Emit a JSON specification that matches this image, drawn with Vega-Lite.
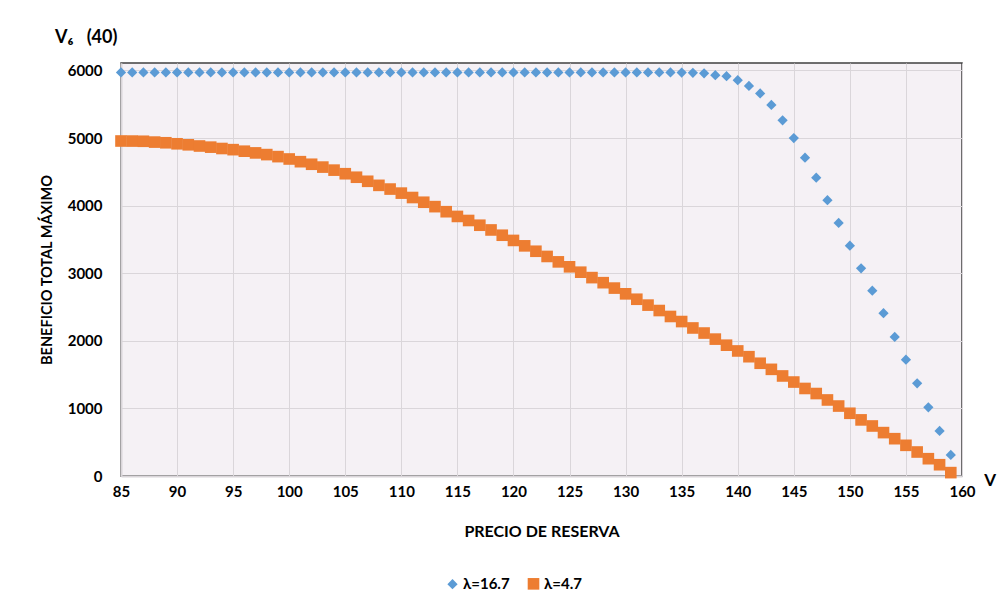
{
  "$schema": "https://vega.github.io/schema/vega-lite/v6.json",
  "autosize": {"type": "none"},
  "width": 841,
  "height": 413,
  "padding": {"left": 121, "top": 63, "right": 43, "bottom": 131},
  "background": "#ffffff",
  "config": {
    "font": "Lato",
    "view": {"fill": "#F5F1F5", "stroke": "#404040", "strokeWidth": 1.5},
    "axis": {
      "labelFont": "Lato", "labelFontWeight": "bold", "labelFontSize": 15, "labelColor": "#000000",
      "titleFont": "Lato", "titleFontWeight": "bold", "titleFontSize": 14, "titleColor": "#000000",
      "gridColor": "#DAD6DA", "gridWidth": 1, "ticks": false,
      "domainColor": "#DAD6DA", "domainWidth": 2
    }
  },
  "title": {
    "text": "V₆\u00a0\u00a0\u00a0(40)",
    "anchor": "start",
    "frame": "group",
    "dx": -66,
    "offset": 16,
    "font": "Lato",
    "fontSize": 18,
    "fontWeight": "bold",
    "color": "#000000"
  },
  "layer": [
    {
      "data": {"values": [
        {"v":85,"s":"λ=16.7","b":5970},{"v":86,"s":"λ=16.7","b":5970},{"v":87,"s":"λ=16.7","b":5970},{"v":88,"s":"λ=16.7","b":5970},{"v":89,"s":"λ=16.7","b":5970},
        {"v":90,"s":"λ=16.7","b":5970},{"v":91,"s":"λ=16.7","b":5970},{"v":92,"s":"λ=16.7","b":5970},{"v":93,"s":"λ=16.7","b":5970},{"v":94,"s":"λ=16.7","b":5970},
        {"v":95,"s":"λ=16.7","b":5970},{"v":96,"s":"λ=16.7","b":5970},{"v":97,"s":"λ=16.7","b":5970},{"v":98,"s":"λ=16.7","b":5970},{"v":99,"s":"λ=16.7","b":5970},
        {"v":100,"s":"λ=16.7","b":5970},{"v":101,"s":"λ=16.7","b":5970},{"v":102,"s":"λ=16.7","b":5970},{"v":103,"s":"λ=16.7","b":5970},{"v":104,"s":"λ=16.7","b":5970},
        {"v":105,"s":"λ=16.7","b":5970},{"v":106,"s":"λ=16.7","b":5970},{"v":107,"s":"λ=16.7","b":5970},{"v":108,"s":"λ=16.7","b":5970},{"v":109,"s":"λ=16.7","b":5970},
        {"v":110,"s":"λ=16.7","b":5970},{"v":111,"s":"λ=16.7","b":5970},{"v":112,"s":"λ=16.7","b":5970},{"v":113,"s":"λ=16.7","b":5970},{"v":114,"s":"λ=16.7","b":5970},
        {"v":115,"s":"λ=16.7","b":5970},{"v":116,"s":"λ=16.7","b":5970},{"v":117,"s":"λ=16.7","b":5970},{"v":118,"s":"λ=16.7","b":5970},{"v":119,"s":"λ=16.7","b":5970},
        {"v":120,"s":"λ=16.7","b":5970},{"v":121,"s":"λ=16.7","b":5970},{"v":122,"s":"λ=16.7","b":5970},{"v":123,"s":"λ=16.7","b":5970},{"v":124,"s":"λ=16.7","b":5970},
        {"v":125,"s":"λ=16.7","b":5970},{"v":126,"s":"λ=16.7","b":5970},{"v":127,"s":"λ=16.7","b":5970},{"v":128,"s":"λ=16.7","b":5970},{"v":129,"s":"λ=16.7","b":5970},
        {"v":130,"s":"λ=16.7","b":5970},{"v":131,"s":"λ=16.7","b":5970},{"v":132,"s":"λ=16.7","b":5970},{"v":133,"s":"λ=16.7","b":5970},{"v":134,"s":"λ=16.7","b":5970},
        {"v":135,"s":"λ=16.7","b":5968},{"v":136,"s":"λ=16.7","b":5965},{"v":137,"s":"λ=16.7","b":5958},{"v":138,"s":"λ=16.7","b":5930},{"v":139,"s":"λ=16.7","b":5915},
        {"v":140,"s":"λ=16.7","b":5855},{"v":141,"s":"λ=16.7","b":5770},{"v":142,"s":"λ=16.7","b":5660},{"v":143,"s":"λ=16.7","b":5490},{"v":144,"s":"λ=16.7","b":5263},
        {"v":145,"s":"λ=16.7","b":5000},{"v":146,"s":"λ=16.7","b":4710},{"v":147,"s":"λ=16.7","b":4414},{"v":148,"s":"λ=16.7","b":4080},{"v":149,"s":"λ=16.7","b":3744},
        {"v":150,"s":"λ=16.7","b":3408},{"v":151,"s":"λ=16.7","b":3073},{"v":152,"s":"λ=16.7","b":2742},{"v":153,"s":"λ=16.7","b":2408},{"v":154,"s":"λ=16.7","b":2057},
        {"v":155,"s":"λ=16.7","b":1721},{"v":156,"s":"λ=16.7","b":1372},{"v":157,"s":"λ=16.7","b":1017},{"v":158,"s":"λ=16.7","b":666},{"v":159,"s":"λ=16.7","b":311},
        {"v":85,"s":"λ=4.7","b":4956},{"v":86,"s":"λ=4.7","b":4955},{"v":87,"s":"λ=4.7","b":4952},{"v":88,"s":"λ=4.7","b":4940},{"v":89,"s":"λ=4.7","b":4930},
        {"v":90,"s":"λ=4.7","b":4915},{"v":91,"s":"λ=4.7","b":4900},{"v":92,"s":"λ=4.7","b":4882},{"v":93,"s":"λ=4.7","b":4865},{"v":94,"s":"λ=4.7","b":4845},
        {"v":95,"s":"λ=4.7","b":4828},{"v":96,"s":"λ=4.7","b":4805},{"v":97,"s":"λ=4.7","b":4780},{"v":98,"s":"λ=4.7","b":4755},{"v":99,"s":"λ=4.7","b":4725},
        {"v":100,"s":"λ=4.7","b":4690},{"v":101,"s":"λ=4.7","b":4650},{"v":102,"s":"λ=4.7","b":4612},{"v":103,"s":"λ=4.7","b":4570},{"v":104,"s":"λ=4.7","b":4525},
        {"v":105,"s":"λ=4.7","b":4472},{"v":106,"s":"λ=4.7","b":4420},{"v":107,"s":"λ=4.7","b":4360},{"v":108,"s":"λ=4.7","b":4300},{"v":109,"s":"λ=4.7","b":4245},
        {"v":110,"s":"λ=4.7","b":4185},{"v":111,"s":"λ=4.7","b":4120},{"v":112,"s":"λ=4.7","b":4050},{"v":113,"s":"λ=4.7","b":3985},{"v":114,"s":"λ=4.7","b":3910},
        {"v":115,"s":"λ=4.7","b":3840},{"v":116,"s":"λ=4.7","b":3780},{"v":117,"s":"λ=4.7","b":3710},{"v":118,"s":"λ=4.7","b":3640},{"v":119,"s":"λ=4.7","b":3562},
        {"v":120,"s":"λ=4.7","b":3485},{"v":121,"s":"λ=4.7","b":3405},{"v":122,"s":"λ=4.7","b":3325},{"v":123,"s":"λ=4.7","b":3248},{"v":124,"s":"λ=4.7","b":3168},
        {"v":125,"s":"λ=4.7","b":3095},{"v":126,"s":"λ=4.7","b":3015},{"v":127,"s":"λ=4.7","b":2935},{"v":128,"s":"λ=4.7","b":2860},{"v":129,"s":"λ=4.7","b":2780},
        {"v":130,"s":"λ=4.7","b":2695},{"v":131,"s":"λ=4.7","b":2615},{"v":132,"s":"λ=4.7","b":2528},{"v":133,"s":"λ=4.7","b":2448},{"v":134,"s":"λ=4.7","b":2360},
        {"v":135,"s":"λ=4.7","b":2285},{"v":136,"s":"λ=4.7","b":2190},{"v":137,"s":"λ=4.7","b":2115},{"v":138,"s":"λ=4.7","b":2025},{"v":139,"s":"λ=4.7","b":1935},
        {"v":140,"s":"λ=4.7","b":1850},{"v":141,"s":"λ=4.7","b":1765},{"v":142,"s":"λ=4.7","b":1668},{"v":143,"s":"λ=4.7","b":1578},{"v":144,"s":"λ=4.7","b":1480},
        {"v":145,"s":"λ=4.7","b":1390},{"v":146,"s":"λ=4.7","b":1295},{"v":147,"s":"λ=4.7","b":1220},{"v":148,"s":"λ=4.7","b":1125},{"v":149,"s":"λ=4.7","b":1035},
        {"v":150,"s":"λ=4.7","b":928},{"v":151,"s":"λ=4.7","b":830},{"v":152,"s":"λ=4.7","b":740},{"v":153,"s":"λ=4.7","b":642},{"v":154,"s":"λ=4.7","b":552},
        {"v":155,"s":"λ=4.7","b":454},{"v":156,"s":"λ=4.7","b":355},{"v":157,"s":"λ=4.7","b":256},{"v":158,"s":"λ=4.7","b":167},{"v":159,"s":"λ=4.7","b":50}
      ]},
      "mark": {"type": "point", "filled": true, "opacity": 1},
      "encoding": {
        "x": {
          "field": "v", "type": "quantitative",
          "scale": {"domain": [85, 160], "nice": false, "zero": false},
          "axis": {"values": [85,90,95,100,105,110,115,120,125,130,135,140,145,150,155,160], "labelPadding": 8, "title": "PRECIO DE RESERVA", "titleFontSize": 16, "titlePadding": 24, "labelFlush": false}
        },
        "y": {
          "field": "b", "type": "quantitative",
          "scale": {"domain": [0, 6110], "nice": false},
          "axis": {"values": [0,1000,2000,3000,4000,5000,6000], "labelPadding": 19, "title": "BENEFICIO TOTAL MÁXIMO", "titleFontSize": 14.5, "titlePadding": 13, "labelFlush": false, "format": "d"}
        },
        "color": {
          "field": "s", "type": "nominal",
          "scale": {"domain": ["λ=16.7", "λ=4.7"], "range": ["#5B9BD5", "#ED7D31"]},
          "legend": {
            "title": null, "orient": "none", "direction": "horizontal",
            "legendX": 324, "legendY": 513,
            "labelFont": "Lato", "labelFontSize": 15, "labelFontWeight": "bold", "labelColor": "#000000",
            "symbolSize": 110, "labelOffset": 3, "columnPadding": 14, "symbolOpacity": 1
          }
        },
        "shape": {
          "field": "s", "type": "nominal",
          "scale": {"domain": ["λ=16.7", "λ=4.7"], "range": ["diamond", "square"]}
        },
        "size": {
          "field": "s", "type": "nominal",
          "scale": {"type": "ordinal", "domain": ["λ=16.7", "λ=4.7"], "range": [105, 135]},
          "legend": null
        }
      }
    },
    {
      "data": {"values": [{"v": 162.5, "b": 0, "t": "V"}]},
      "mark": {"type": "text", "font": "Lato", "fontSize": 17, "fontWeight": "bold", "color": "#000000", "baseline": "middle", "align": "center", "dy": 5},
      "encoding": {
        "x": {"field": "v", "type": "quantitative"},
        "y": {"field": "b", "type": "quantitative"},
        "text": {"field": "t"}
      }
    }
  ]
}
